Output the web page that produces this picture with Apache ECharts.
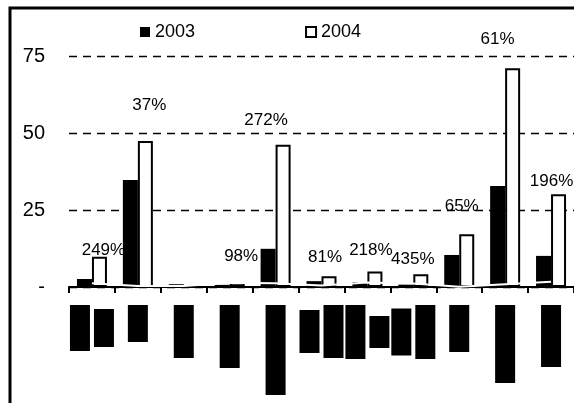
<!DOCTYPE html>
<html>
<head>
<meta charset="utf-8">
<script src="https://cdn.jsdelivr.net/npm/echarts@6/dist/echarts.min.js"></script>
<style>
  html, body { margin: 0; padding: 0; background: #fff; }
  #chart { width: 574px; height: 403px; }
</style>
</head>
<body>
<div id="chart"></div>
<script>
// Categories (their names are masked out below the axis)
const categories = ['1', '2', '3', '4', '5', '6', '7', '8', '9', '10', '11'];

// Yearly values
const values2003 = [2.6, 34.7, 0.9, 0.7, 12.4, 1.9, 1.6, 0.8, 10.4, 32.8, 10.1];
const values2004 = [9.8, 47.4, 0.3, 1.4, 46.2, 3.5, 5.0, 4.1, 17.1, 71.0, 30.1];

// Growth labels shown above the 2004 bars
const growthLabels = ['249%', '37%', '', '98%', '272%', '81%', '218%', '435%', '65%', '61%', '196%'];

// Thin white trace running along the base of the bars
const traceValues = [1.2, 0.3, 0.3, 1.4, 1.2, 0.5, 1.5, 1.1, 0.1, 0.9, 1.7];

// Value-axis ticks
const yTicks = [0, 25, 50, 75];
const yTickLabels = ['-', '25', '50', '75'];

// Label placement tweaks [dx, dy] for the growth labels
const labelNudge = [[4, 2], [4, -27], [0, 0], [4, -18], [-17, -16], [-4, -10], [-4, -13], [-8, -7], [-5, -20], [-15, -21], [-7, -4]];

// Masked category-name blocks: heights of each text line block
const maskBlocks = [[46, 38], [37], [53], [63], [90], [43, 53], [54, 32], [47, 54], [47], [78], [62]];

const FONT = '"Liberation Sans", Arial, sans-serif';

const rich = { g: { width: 4, height: 1 } };
maskBlocks.forEach((blocks, i) => {
  blocks.forEach((h, j) => {
    rich['m' + i + '_' + j] = { width: 20, height: h, backgroundColor: '#000', verticalAlign: 'middle' };
  });
});

const chart = echarts.init(document.getElementById('chart'), null, { renderer: 'canvas' });

chart.setOption({
  animation: false,
  backgroundColor: '#fff',
  textStyle: { fontFamily: FONT },
  graphic: [{
    type: 'rect',
    shape: { x: 10, y: 8, width: 640, height: 500 },
    style: { fill: 'none', stroke: '#000', lineWidth: 3 },
    z: 100
  }],
  legend: {
    left: 135,
    top: 18,
    itemWidth: 10,
    itemHeight: 10,
    itemGap: 110,
    textStyle: { fontFamily: FONT, fontSize: 18, color: '#000' },
    data: [
      { name: '2003', icon: 'rect', itemStyle: { color: '#000', borderWidth: 0 } },
      { name: '2004', icon: 'rect', itemStyle: { color: '#fff', borderColor: '#000', borderWidth: 2 } }
    ]
  },
  grid: { left: 69, right: -6, top: 56, bottom: 116, containLabel: false },
  xAxis: {
    type: 'category',
    data: categories,
    axisLine: { lineStyle: { color: '#000', width: 2 } },
    axisTick: { show: true, length: 6, interval: 0, lineStyle: { color: '#000', width: 2 } },
    axisLabel: {
      interval: 0,
      margin: 18,
      verticalAlign: 'top',
      formatter: (v, i) => maskBlocks[i].map((h, j) => '{m' + i + '_' + j + '|}').join('{g|}'),
      rich: rich
    }
  },
  yAxis: {
    type: 'value',
    min: yTicks[0],
    max: yTicks[yTicks.length - 1],
    interval: 25,
    axisLine: { show: false },
    axisTick: { show: false },
    axisLabel: {
      margin: 24,
      fontSize: 20,
      color: '#000',
      fontFamily: FONT,
      formatter: (v) => yTickLabels[yTicks.indexOf(v)]
    },
    splitLine: { lineStyle: { color: '#000', width: 1.3, type: [8, 6] } }
  },
  series: [
    {
      name: '2003',
      type: 'bar',
      data: values2003,
      barWidth: 15,
      barGap: '0%',
      itemStyle: { color: '#000' }
    },
    {
      name: '2004',
      type: 'bar',
      data: values2004.map((v, i) => ({ value: v, label: { offset: labelNudge[i] } })),
      barWidth: 15,
      itemStyle: { color: '#fff', borderColor: '#000', borderWidth: 2 },
      label: {
        show: true,
        position: 'top',
        distance: 0,
        fontSize: 17,
        color: '#000',
        fontFamily: FONT,
        formatter: (p) => growthLabels[p.dataIndex]
      },
      z: 3
    },
    {
      name: 'trace',
      type: 'line',
      data: traceValues,
      symbol: 'none',
      silent: true,
      lineStyle: { color: '#fff', width: 2 },
      z: 5
    }
  ]
});
</script>
</body>
</html>
